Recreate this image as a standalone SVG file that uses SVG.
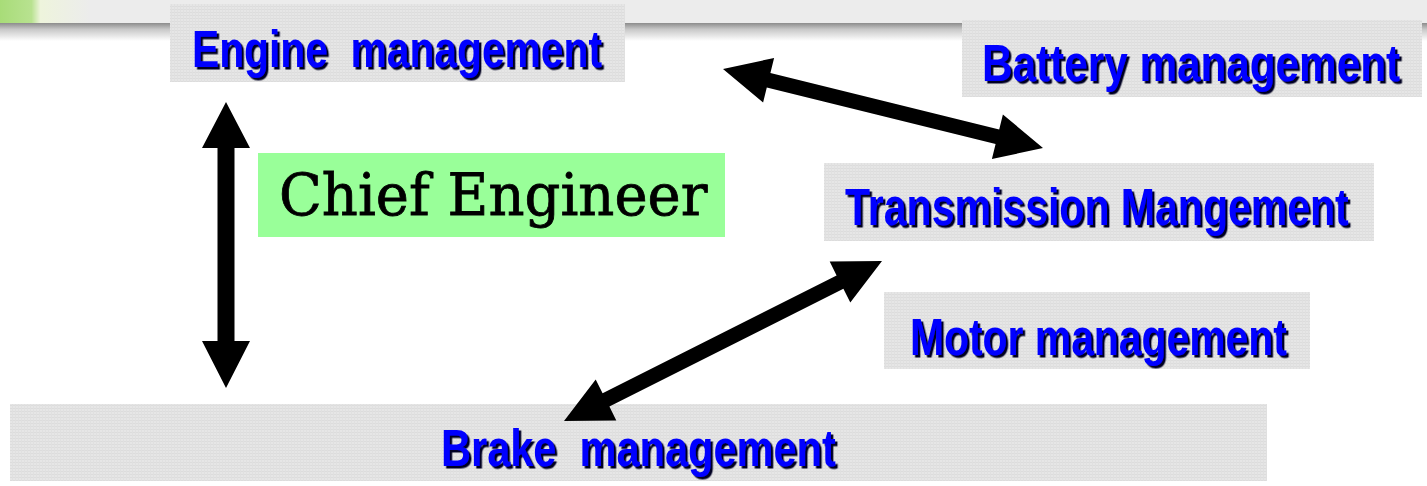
<svg xmlns="http://www.w3.org/2000/svg" width="1427" height="486" viewBox="0 0 1427 486">
  <defs>
    <linearGradient id="shadowGrad" x1="0" y1="0" x2="0" y2="1">
      <stop offset="0" stop-color="#8c8c8c"/>
      <stop offset="0.35" stop-color="#c8c8c8"/>
      <stop offset="1" stop-color="#ffffff"/>
    </linearGradient>
    <linearGradient id="greenGrad" x1="0" y1="0" x2="1" y2="0">
      <stop offset="0" stop-color="#a8dc78"/>
      <stop offset="0.35" stop-color="#b8e290"/>
      <stop offset="0.45" stop-color="#eef4dc"/>
      <stop offset="1" stop-color="#ececec"/>
    </linearGradient>
    <pattern id="grid" width="3" height="3" patternUnits="userSpaceOnUse">
      <rect width="3" height="3" fill="#e6e6e6"/>
      <rect width="3" height="1" fill="#dcdcdc"/>
      <rect width="1" height="3" fill="#e0e0e0"/>
    </pattern>
    <filter id="ds" x="-5%" y="-20%" width="110%" height="140%">
      <feDropShadow dx="3" dy="2.5" stdDeviation="0.3" flood-color="#000020" flood-opacity="1"/>
    </filter>
  </defs>
  <style>
    .box { fill: url(#grid); }
    .lbl { font-family: "Liberation Sans", Arial, sans-serif; font-weight: bold; font-size: 52px; fill: #0000ff; filter: url(#ds); }
    .arrow { fill: #000000; }
  </style>

  <rect x="0" y="0" width="1427" height="486" fill="#ffffff"/>

  <g id="header">
    <rect x="0" y="0" width="1427" height="23" fill="#ececec"/>
    <rect x="0" y="23" width="1427" height="18" fill="url(#shadowGrad)"/>
    <rect x="0" y="0" width="90" height="23" fill="url(#greenGrad)"/>
  </g>

  <g id="engine">
    <rect class="box" x="170" y="4" width="455" height="78"/>
    <text class="lbl" transform="translate(192,67) scale(0.784,1)" xml:space="preserve">Engine  management</text>
  </g>

  <g id="battery">
    <rect class="box" x="962" y="20" width="460" height="77"/>
    <text class="lbl" transform="translate(982,81) scale(0.813,1)">Battery management</text>
  </g>

  <g id="chief">
    <rect x="258" y="153" width="467" height="84" fill="#99ff99"/>
    <text transform="translate(279,215) scale(0.966,1)" font-family="DejaVu Serif, 'Liberation Serif', serif" font-size="58" fill="#000000" stroke="#000000" stroke-width="0.8">Chief Engineer</text>
  </g>

  <g id="transmission">
    <rect class="box" x="824" y="163" width="550" height="78"/>
    <text class="lbl" transform="translate(845,225) scale(0.789,1)">Transmission Mangement</text>
  </g>

  <g id="motor">
    <rect class="box" x="884" y="292" width="426" height="77"/>
    <text class="lbl" transform="translate(910,355) scale(0.786,1)">Motor management</text>
  </g>

  <g id="brake">
    <rect class="box" x="10" y="404" width="1257" height="77"/>
    <text class="lbl" transform="translate(441,466) scale(0.799,1)" xml:space="preserve">Brake  management</text>
  </g>

  <g id="connectors">
    <polygon class="arrow" points="226,102 250,148 234.5,148 234.5,341 250,341 226,388 202,341 217.5,341 217.5,148 202,148"/>
    <polygon class="arrow" points="723,69 774.1,58 770.4,73 999.2,129.4 1002.9,114.4 1043,148 991.9,159 995.6,144 766.8,87.6 763.1,102.6"/>
    <polygon class="arrow" points="882,261 829.7,261.6 836.6,275.4 602.6,393.2 595.7,379.4 564,421 616.3,420.4 609.4,406.6 843.4,288.8 850.3,302.6"/>
  </g>
</svg>
